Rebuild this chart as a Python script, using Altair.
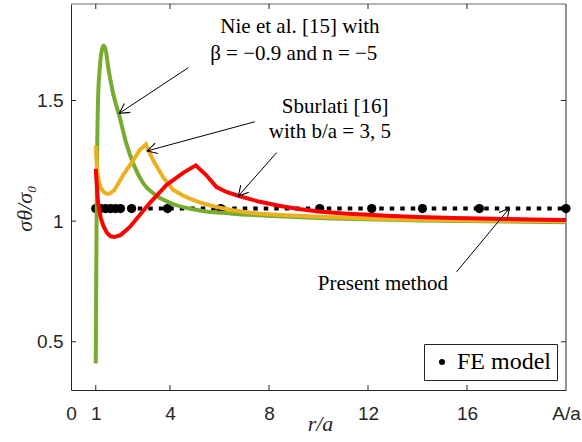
import math
import altair as alt
import pandas as pd

# ---------------- data ----------------
# Nie et al. [15]  (green)
nie_r = [1.0, 1.03, 1.05, 1.09, 1.16, 1.24, 1.32, 1.41, 1.5, 1.7, 1.97, 2.24, 2.55, 2.9, 3.45, 4.1, 5.2, 6.5, 7.6, 10.0, 14.0, 20.0]
nie_v = [0.41, 0.94, 1.217, 1.493, 1.632, 1.705, 1.728, 1.705, 1.64, 1.53, 1.43, 1.32, 1.23, 1.16, 1.106, 1.072, 1.044, 1.031, 1.024, 1.013, 1.003, 0.995]

# Sburlati [16]  (yellow)
sbu_r = [1.0, 1.03, 1.07, 1.12, 1.2, 1.3, 1.4, 1.5, 1.6, 1.75, 2.1, 2.5, 2.78, 3.02, 3.32, 3.72, 4.12, 4.5, 4.8, 5.2, 5.6, 6.0, 6.55, 7.1, 7.63, 8.5, 10.0, 12.0, 14.0, 17.0, 20.0]
sbu_v = [1.313, 1.25, 1.2, 1.165, 1.14, 1.123, 1.115, 1.113, 1.117, 1.128, 1.19, 1.25, 1.295, 1.318, 1.252, 1.182, 1.13, 1.107, 1.093, 1.078, 1.066, 1.056, 1.045, 1.037, 1.031, 1.025, 1.018, 1.011, 1.006, 1.002, 0.999]

# second Sburlati curve (red)
red_r = [1.0, 1.05, 1.09, 1.15, 1.2, 1.3, 1.45, 1.6, 1.75, 2.0, 2.37, 3.18, 3.86, 4.53, 5.04, 5.47, 5.88, 6.3, 6.82, 7.63, 8.4, 9.2, 10.0, 11.0, 12.0, 13.0, 14.0, 15.5, 17.0, 18.5, 20.0]
red_v = [1.217, 1.14, 1.079, 1.04, 1.015, 0.982, 0.952, 0.937, 0.934, 0.942, 0.975, 1.075, 1.15, 1.2, 1.231, 1.19, 1.141, 1.12, 1.103, 1.08, 1.064, 1.05, 1.04, 1.032, 1.026, 1.021, 1.017, 1.013, 1.01, 1.007, 1.005]

# Present method (dotted) and FE model points
present_r = [1.0, 20.0]
present_v = [1.052, 1.052]
fe_r = [1.0, 1.2, 1.4, 1.6, 1.8, 2.0, 2.45, 3.9, 6.05, 10.05, 12.15, 14.2, 16.5, 20.0]
fe_v = [1.052, 1.052, 1.052, 1.052, 1.052, 1.052, 1.052, 1.052, 1.052, 1.052, 1.052, 1.052, 1.052, 1.052]

# axes
x_ticks = [0, 1, 4, 8, 12, 16, 20]
x_tick_labels = ["0", "1", "4", "8", "12", "16", "A/a"]
y_ticks = [0.5, 1, 1.5]

# annotations
note_text = ["Nie et al. [15] with", "β = −0.9 and n = −5", "Sburlati [16]", "with b/a = 3, 5", "Present method"]
note_r = [9.25, 9.0, 10.67, 10.46, 12.6]
note_v = [1.78, 1.668, 1.448, 1.345, 0.714]

arrow_r0 = [4.74, 7.43, 8.31, 15.58]
arrow_v0 = [1.636, 1.412, 1.284, 0.790]
arrow_r1 = [1.95, 3.08, 6.76, 17.71]
arrow_v1 = [1.447, 1.291, 1.104, 1.053]

# ---------------- layout ----------------
W, H = 495, 386
X_DOM = [0, 20]
Y_DOM = [0.3, 1.9]
SX = W / (X_DOM[1] - X_DOM[0])
SY = H / (Y_DOM[1] - Y_DOM[0])
AX = "#262626"
SERIF = "Liberation Serif"
SANS = "Liberation Sans"

xs = alt.Scale(domain=X_DOM, nice=False, zero=False)
ys = alt.Scale(domain=Y_DOM, nice=False, zero=False)

label_expr = "{" + ",".join(f"'{t}':'{l}'" for t, l in zip(x_ticks, x_tick_labels)) + "}[datum.value]"

x_axis = alt.Axis(values=x_ticks, labelExpr=label_expr, ticks=False, tickSize=0, grid=False,
                  domainColor=AX, labelColor=AX, labelFont=SANS, labelFontSize=19,
                  labelPadding=14, labelFlush=False,
                  title="r/a", titleFont=SERIF, titleFontStyle="italic", titleFontWeight="normal",
                  titleFontSize=22, titleColor=AX, titleX=249, titleY=40, titleBaseline="alphabetic")
y_axis = alt.Axis(values=y_ticks, format="~g", ticks=False, tickSize=0, grid=False,
                  domainColor=AX, labelColor=AX, labelFont=SANS, labelFontSize=19,
                  labelPadding=8,
                  title="σθ/σ₀", titleFont=SERIF, titleFontStyle="italic", titleFontWeight="normal",
                  titleFontSize=22, titleColor=AX, titleAngle=270, titleX=-40, titleY=204,
                  titleBaseline="alphabetic", titleAlign="center")

base_x = alt.X("r:Q", scale=xs, axis=x_axis)
base_y = alt.Y("v:Q", scale=ys, axis=y_axis)


def curve(rs, vs, color, interp):
    df = pd.DataFrame({"r": rs, "v": vs})
    return alt.Chart(df).mark_line(color=color, strokeWidth=4, interpolate=interp,
                                   strokeJoin="miter").encode(x=base_x, y=base_y)


# frame: inward ticks, top and right borders
xt = pd.DataFrame({"r": x_ticks[1:-1]})
yt = pd.DataFrame({"v": y_ticks})
ticks_bottom = alt.Chart(xt).mark_rule(color=AX, strokeWidth=1).encode(
    x=alt.X("r:Q", scale=xs, axis=x_axis), y=alt.value(H - 5), y2=alt.value(H))
ticks_top = alt.Chart(xt).mark_rule(color=AX, strokeWidth=1).encode(
    x=alt.X("r:Q", scale=xs), y=alt.value(0), y2=alt.value(5))
ticks_left = alt.Chart(yt).mark_rule(color=AX, strokeWidth=1).encode(
    y=alt.Y("v:Q", scale=ys, axis=y_axis), x=alt.value(0), x2=alt.value(5))
ticks_right = alt.Chart(yt).mark_rule(color=AX, strokeWidth=1).encode(
    y=alt.Y("v:Q", scale=ys), x=alt.value(W - 5), x2=alt.value(W))
one = pd.DataFrame({"k": [0]})
top_border = alt.Chart(one).mark_rule(color="#9a9a9a", strokeWidth=1.6).encode(
    x=alt.value(0), x2=alt.value(W), y=alt.value(0))
right_border = alt.Chart(one).mark_rule(color=AX, strokeWidth=1).encode(
    x=alt.value(W), y=alt.value(0), y2=alt.value(H))

present = alt.Chart(pd.DataFrame({"r": present_r, "v": present_v})).mark_line(
    color="black", strokeWidth=4, strokeDash=[4.5, 6], strokeCap="butt").encode(x=base_x, y=base_y)

fe = alt.Chart(pd.DataFrame({"r": fe_r, "v": fe_v, "s": ["FE model"] * len(fe_r)})).mark_circle(
    size=85, opacity=1).encode(
    x=base_x, y=base_y,
    color=alt.Color("s:N", scale=alt.Scale(domain=["FE model"], range=["black"]),
                    legend=alt.Legend(title=None, orient="none", legendX=353, legendY=340,
                                      strokeColor=AX, fillColor="white", padding=6,
                                      labelFont=SERIF, labelFontSize=24, labelColor="black",
                                      labelOffset=3, symbolSize=36, symbolType="circle",
                                      symbolStrokeWidth=0)))

green = curve(nie_r, nie_v, "#77AC30", "monotone")
yellow = curve(sbu_r, sbu_v, "#EDB120", "linear")
red = curve(red_r, red_v, "#FF0000", "linear")

# annotations
notes = alt.Chart(pd.DataFrame({"r": note_r, "v": note_v, "t": note_text})).mark_text(
    font=SERIF, fontSize=21, color="black", align="center", baseline="alphabetic").encode(
    x=base_x, y=base_y, text="t:N")

adf = pd.DataFrame({"r": arrow_r0, "v": arrow_v0, "r2": arrow_r1, "v2": arrow_v1})
adf["ang"] = [
    math.degrees(math.atan2(-(b1 - b0) * SY, (a1 - a0) * SX)) % 360
    for a0, b0, a1, b1 in zip(arrow_r0, arrow_v0, arrow_r1, arrow_v1)
]
arrow_lines = alt.Chart(adf).mark_rule(color="black", strokeWidth=1).encode(
    x=base_x, y=base_y, x2="r2:Q", y2="v2:Q")
arrow_heads = alt.Chart(adf).mark_point(
    shape="M-1,-0.55L0,0L-1,0.55", filled=False, stroke="black", strokeWidth=1.1,
    size=380, opacity=1).encode(
    x=alt.X("r2:Q", scale=xs, axis=x_axis), y=alt.Y("v2:Q", scale=ys, axis=y_axis),
    angle=alt.Angle("ang:Q", scale=None))

chart = alt.layer(
    top_border, right_border, ticks_bottom, ticks_top, ticks_left, ticks_right,
    present, fe, green, yellow, red, arrow_lines, arrow_heads, notes
).properties(
    width=W, height=H,
    autosize=alt.AutoSizeParams(type="none"),
    padding={"left": 71, "top": 4, "right": 16, "bottom": 52},
    background="white",
).configure_view(stroke=None).configure_axis(domainWidth=1)

chart.save("out.html", embed_options={"renderer": "svg", "actions": False})
